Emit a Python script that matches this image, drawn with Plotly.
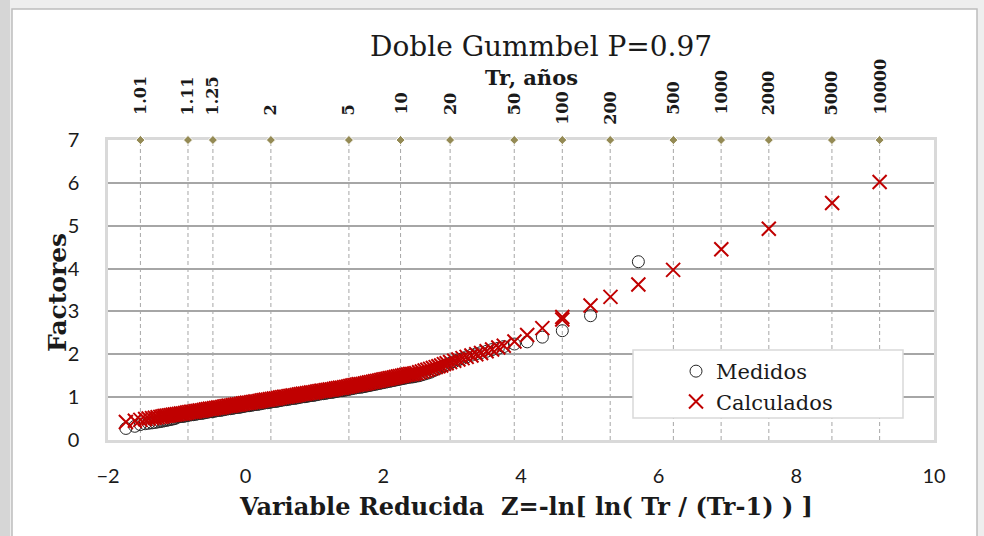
import plotly.graph_objects as go
import math

# ---------------- data ----------------
tr_labels = ["1.01", "1.11", "1.25", "2", "5", "10", "20", "50", "100", "200",
             "500", "1000", "2000", "5000", "10000"]
tr_values = [1.01, 1.11, 1.25, 2, 5, 10, 20, 50, 100, 200, 500, 1000, 2000, 5000, 10000]
# reduced variable of each return period (axis position of the Tr labels)
tr_z = [-math.log(math.log(t / (t - 1.0))) for t in tr_values]

# plotting positions (reduced variable) of the ranked data
data_z = [-1.74, -1.61, -1.53, -1.46, -1.41, -1.36, -1.32, -1.28, -1.24, -1.21, -1.18, -1.15,
          -1.12, -1.09, -1.06, -1.03,
          -1.00, -0.97, -0.94, -0.91, -0.88, -0.85, -0.82, -0.79, -0.76, -0.73,
          -0.70, -0.67, -0.64, -0.61, -0.58, -0.55, -0.52, -0.49, -0.46, -0.43,
          -0.40, -0.37, -0.34, -0.31, -0.28, -0.25, -0.22, -0.19, -0.16, -0.13,
          -0.10, -0.07, -0.04, -0.01, 0.02, 0.05, 0.08, 0.11, 0.14, 0.17,
          0.20, 0.23, 0.26, 0.29, 0.32, 0.35, 0.38, 0.41, 0.44, 0.47,
          0.50, 0.53, 0.56, 0.59, 0.62, 0.65, 0.68, 0.71, 0.74, 0.77,
          0.80, 0.83, 0.86, 0.89, 0.92, 0.95, 0.98, 1.01, 1.04, 1.07,
          1.10, 1.13, 1.16, 1.19, 1.22, 1.25, 1.28, 1.31, 1.34, 1.37,
          1.40, 1.43, 1.46, 1.49, 1.52, 1.55, 1.58, 1.61, 1.64, 1.67,
          1.70, 1.73, 1.76, 1.79, 1.82, 1.85, 1.88, 1.91, 1.94, 1.97,
          2.00, 2.03, 2.06, 2.09, 2.12, 2.15, 2.18, 2.21, 2.24, 2.27,
          2.30, 2.33, 2.36, 2.39, 2.42, 2.45, 2.48,
          2.52, 2.56, 2.60, 2.64, 2.68, 2.72, 2.76, 2.80, 2.84, 2.88,
          2.92, 2.97, 3.03, 3.09, 3.15, 3.21, 3.28, 3.35, 3.42, 3.50,
          3.58, 3.67, 3.75, 3.905, 4.09, 4.31, 4.60, 5.01, 5.705]

med_y = [0.27, 0.32, 0.36, 0.38, 0.39, 0.40, 0.41, 0.42, 0.43, 0.44, 0.45, 0.46,
         0.47, 0.48, 0.49, 0.50,
         0.53, 0.54, 0.55, 0.55, 0.56, 0.57, 0.58, 0.59, 0.59, 0.60,
         0.61, 0.62, 0.62, 0.63, 0.64, 0.65, 0.66, 0.66, 0.67, 0.68,
         0.69, 0.69, 0.70, 0.71, 0.72, 0.73, 0.73, 0.74, 0.75, 0.76,
         0.76, 0.77, 0.78, 0.79, 0.80, 0.80, 0.81, 0.82, 0.83, 0.83,
         0.84, 0.85, 0.86, 0.87, 0.87, 0.88, 0.89, 0.90, 0.90, 0.91,
         0.92, 0.93, 0.94, 0.94, 0.95, 0.96, 0.97, 0.97, 0.98, 0.99,
         1.00, 1.01, 1.01, 1.02, 1.03, 1.04, 1.04, 1.05, 1.06, 1.07,
         1.08, 1.08, 1.09, 1.10, 1.11, 1.11, 1.12, 1.13, 1.14, 1.15,
         1.15, 1.16, 1.17, 1.18, 1.19, 1.20, 1.21, 1.22, 1.23, 1.23,
         1.24, 1.25, 1.26, 1.27, 1.28, 1.29, 1.30, 1.31, 1.32, 1.33,
         1.34, 1.35, 1.36, 1.37, 1.38, 1.39, 1.40, 1.41, 1.42, 1.43,
         1.44, 1.45, 1.46, 1.47, 1.47, 1.48, 1.49,
         1.50, 1.52, 1.54, 1.56, 1.58, 1.61, 1.64, 1.67, 1.70, 1.73,
         1.76, 1.79, 1.83, 1.87, 1.90, 1.94, 1.98, 2.01, 2.04, 2.07,
         2.11, 2.14, 2.18, 2.24, 2.29, 2.40, 2.55, 2.90, 4.16]

calc_data_y = [0.42, 0.45, 0.47, 0.49, 0.50, 0.51, 0.52, 0.53, 0.54, 0.55, 0.56, 0.565,
               0.57, 0.58, 0.59, 0.595,
               0.60, 0.61, 0.62, 0.62, 0.63, 0.64, 0.65, 0.66, 0.66, 0.67,
               0.68, 0.69, 0.69, 0.70, 0.71, 0.72, 0.73, 0.73, 0.74, 0.75,
               0.76, 0.76, 0.77, 0.78, 0.79, 0.80, 0.80, 0.81, 0.82, 0.83,
               0.83, 0.84, 0.85, 0.86, 0.87, 0.87, 0.88, 0.89, 0.90, 0.90,
               0.91, 0.92, 0.93, 0.94, 0.94, 0.95, 0.96, 0.97, 0.97, 0.98,
               0.99, 1.00, 1.01, 1.01, 1.02, 1.03, 1.04, 1.04, 1.05, 1.06,
               1.07, 1.08, 1.08, 1.09, 1.10, 1.11, 1.11, 1.12, 1.13, 1.14,
               1.15, 1.15, 1.16, 1.17, 1.18, 1.18, 1.19, 1.20, 1.21, 1.22,
               1.22, 1.23, 1.24, 1.25, 1.26, 1.27, 1.28, 1.29, 1.30, 1.30,
               1.31, 1.32, 1.33, 1.34, 1.35, 1.36, 1.37, 1.38, 1.39, 1.40,
               1.41, 1.42, 1.43, 1.44, 1.45, 1.46, 1.47, 1.48, 1.49, 1.50,
               1.51, 1.52, 1.53, 1.54, 1.54, 1.55, 1.56,
               1.58, 1.60, 1.62, 1.64, 1.66, 1.68, 1.70, 1.72, 1.74, 1.77,
               1.79, 1.82, 1.85, 1.88, 1.91, 1.94, 1.97, 2.00, 2.03, 2.07,
               2.11, 2.16, 2.20, 2.30, 2.45, 2.61, 2.81, 3.14, 3.63]

# calculated factors at the return periods shown on the top axis (Tr = 100 ... 10000)
calc_tr_z = [4.60, 5.30, 6.21, 6.91, 7.60, 8.52, 9.21]
calc_tr_y = [2.87, 3.34, 3.97, 4.45, 4.93, 5.53, 6.02]

x_ticks = [-2, 0, 2, 4, 6, 8, 10]
y_ticks = [0, 1, 2, 3, 4, 5, 6, 7]

calc_z = data_z + calc_tr_z
calc_y = calc_data_y + calc_tr_y

# ---------------- layout helpers (pixel -> paper) ----------------
L, R, T, B = 108, 934, 140, 440
W, H = 984, 536


def px(xp):
    return (xp - L) / (R - L)


def py(yp):
    return (B - yp) / (B - T)


SERIF = "DejaVu Serif"
SANS = "Lato"

fig = go.Figure()

# vertical dashed Tr lines
vx, vy = [], []
for z in tr_z:
    vx += [z, z, None]
    vy += [0, 7, None]
fig.add_trace(go.Scatter(x=vx, y=vy, mode="lines", showlegend=False, hoverinfo="skip",
                         line=dict(color="#a6a6a6", width=1, dash="4px,3px")))

# Tr diamonds on the top edge
fig.add_trace(go.Scatter(x=tr_z, y=[7] * len(tr_z), mode="markers", showlegend=False,
                         cliponaxis=False, hoverinfo="skip",
                         marker=dict(symbol="diamond", size=7, color="#948a54",
                                     line=dict(color="white", width=1))))

fig.add_trace(go.Scatter(x=data_z, y=med_y, mode="markers", name="Medidos", cliponaxis=False,
                         marker=dict(symbol="circle-open", size=12, color="#262626",
                                     line=dict(width=1, color="#262626"))))
fig.add_trace(go.Scatter(x=calc_z, y=calc_y, mode="markers", name="Calculados", cliponaxis=False,
                         marker=dict(symbol="x-thin", size=14, color="#c00000",
                                     line=dict(width=2, color="#c00000"))))

shapes = [
    # outer chart frame & shadow
    dict(type="rect", xref="paper", yref="paper", x0=px(0), x1=px(W), y0=py(H), y1=py(0),
         fillcolor="#eeeeee", line=dict(width=0), layer="below"),
    dict(type="rect", xref="paper", yref="paper", x0=px(0), x1=px(10), y0=py(H), y1=py(0),
         fillcolor="#d6d6d6", line=dict(width=0), layer="below"),
    dict(type="rect", xref="paper", yref="paper", x0=px(12), x1=px(977), y0=py(H + 10), y1=py(9),
         fillcolor="white", line=dict(color="#bdbdbd", width=1.5), layer="below"),
    # legend box
    dict(type="rect", xref="paper", yref="paper", x0=px(633), x1=px(903), y0=py(418), y1=py(350),
         fillcolor="white", line=dict(color="#d9d9d9", width=1.5), layer="above"),
]

annotations = [
    dict(text="Doble Gummbel P=0.97", xref="paper", yref="paper", x=px(541), y=py(46),
         showarrow=False, font=dict(family=SERIF, size=28, color="#1a1a1a"),
         xanchor="center", yanchor="middle"),
    dict(text="<b>Tr, años</b>", xref="paper", yref="paper", x=px(531), y=py(78),
         showarrow=False, font=dict(family=SERIF, size=21, color="#1a1a1a"),
         xanchor="center", yanchor="middle"),
    dict(text="<b>Factores</b>", xref="paper", yref="paper", x=px(57), y=py(293),
         showarrow=False, textangle=-90, font=dict(family=SERIF, size=25, color="#1a1a1a"),
         xanchor="center", yanchor="middle"),
    dict(text="<b>Variable Reducida  Z=-ln[ ln( Tr / (Tr-1) ) ]</b>", xref="paper", yref="paper",
         x=px(526), y=py(506), showarrow=False,
         font=dict(family=SERIF, size=24, color="#1a1a1a"),
         xanchor="center", yanchor="middle"),
]
for lab, z in zip(tr_labels, tr_z):
    shift = 13 if lab in ("100", "200") else 23
    annotations.append(dict(text="<b>" + lab + "</b>", x=z, y=7, xref="x", yref="y",
                            showarrow=False, textangle=-90, yshift=shift,
                            xanchor="center", yanchor="bottom",
                            font=dict(family=SERIF, size=16, color="#1a1a1a")))

fig.update_layout(
    width=W, height=H,
    margin=dict(l=L, r=W - R, t=T, b=H - B, pad=0),
    paper_bgcolor="white", plot_bgcolor="white",
    shapes=shapes, annotations=annotations,
    legend=dict(x=px(676), y=py(351), xanchor="left", yanchor="top",
                bgcolor="rgba(0,0,0,0)", borderwidth=0,
                font=dict(family=SERIF, size=21, color="#1a1a1a"),
                itemwidth=30, tracegroupgap=0),
    xaxis=dict(range=[-2, 10], tickvals=x_ticks, showgrid=False, zeroline=False,
               showline=True, linecolor="#d9d9d9", linewidth=2.5, mirror=True,
               ticks="", ticklabelstandoff=16, layer="below traces",
               tickfont=dict(family=SANS, size=20, color="#1a1a1a")),
    yaxis=dict(range=[0, 7], tickvals=y_ticks, showgrid=True, gridcolor="#a6a6a6", gridwidth=1.5,
               zeroline=False, showline=True, linecolor="#d9d9d9", linewidth=2.5, mirror=True,
               ticks="", ticklabelstandoff=22, layer="below traces",
               tickfont=dict(family=SANS, size=20, color="#1a1a1a")),
)

fig.write_html("out.html", config={"displayModeBar": False},
               post_script="document.body.style.margin='0px';")
